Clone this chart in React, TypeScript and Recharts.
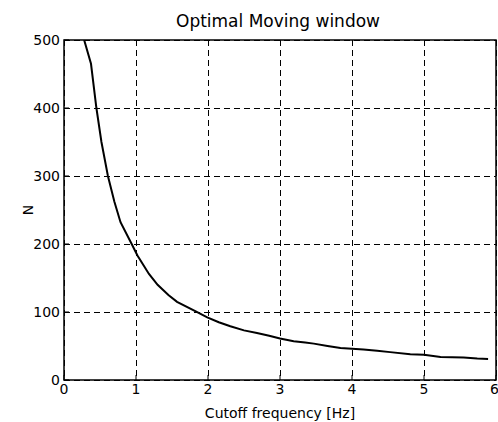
import React from 'react';
import {
  LineChart,
  Line,
  XAxis,
  YAxis,
  CartesianGrid,
  ReferenceArea
} from 'recharts';

// cutoff frequency [Hz] and the optimal window length N read at each one
const freqHz = [
  0.28, 0.375, 0.45, 0.52, 0.61, 0.7, 0.785, 0.94, 1.02, 1.18, 1.3, 1.45,
  1.57, 1.83, 1.99, 2.15, 2.31, 2.5, 2.68, 2.85, 3.0, 3.19, 3.35, 3.47,
  3.66, 3.84, 4.0, 4.16, 4.35, 4.53, 4.81, 5.0, 5.23, 5.55, 5.74, 5.89
];
const windowN = [
  500, 465, 400, 350, 300, 262, 232, 200, 183, 156, 140, 125,
  115, 101, 92, 85, 79, 73, 69, 65, 61, 57, 55, 53.5,
  50, 47, 46, 44.7, 43, 41, 38, 37.3, 34, 33, 31.5, 31
];

const xTicks = [0, 1, 2, 3, 4, 5, 6];
const yTicks = [0, 100, 200, 300, 400, 500];

const data = freqHz.map((f, i) => ({ f, n: windowN[i] }));

const FONT = '"DejaVu Sans", sans-serif';

export default function App() {
  return (
    <div style={{ position: 'absolute', left: 0, top: 0, width: 498, height: 422, background: '#fff' }}>
      <LineChart
        width={498}
        height={422}
        data={data}
        margin={{ top: 40, right: 2, bottom: 0, left: 0 }}
        style={{ fontFamily: FONT }}
      >
        <text x={278} y={27} textAnchor="middle" fontSize={17} fill="#000" fontFamily={FONT}>
          Optimal Moving window
        </text>
        <text
          x={33}
          y={210}
          textAnchor="middle"
          fontSize={14}
          fill="#000"
          fontFamily={FONT}
          transform="rotate(-90 33 210)"
        >
          N
        </text>
        {/* dashed grid, snapped to whole pixels */}
        <CartesianGrid stroke="#000" strokeDasharray="6 4" strokeWidth={1} shapeRendering="crispEdges" />
        <XAxis
          dataKey="f"
          type="number"
          domain={[0, 6]}
          ticks={xTicks}
          allowDataOverflow
          height={42}
          axisLine={false}
          tickLine={{ stroke: '#000', strokeWidth: 1 }}
          tickSize={-5}
          tickMargin={9}
          tick={{ fill: '#000', fontSize: 14, fontFamily: FONT }}
          label={{ value: 'Cutoff frequency [Hz]', position: 'insideBottom', offset: 4, fill: '#000', fontSize: 14, fontFamily: FONT }}
        />
        <YAxis
          type="number"
          domain={[0, 500]}
          ticks={yTicks}
          allowDataOverflow
          width={64}
          axisLine={false}
          tickLine={{ stroke: '#000', strokeWidth: 1 }}
          tickSize={-5}
          tickMargin={9}
          tick={{ fill: '#000', fontSize: 14, fontFamily: FONT }}
        />
        <Line
          type="linear"
          dataKey="n"
          stroke="#000"
          strokeWidth={2}
          dot={false}
          isAnimationActive={false}
        />
        <ReferenceArea
          x1={0}
          x2={6}
          y1={0}
          y2={500}
          fill="none"
          fillOpacity={0}
          stroke="#000"
          strokeWidth={1.5}
          ifOverflow="visible"
        />
      </LineChart>
    </div>
  );
}
